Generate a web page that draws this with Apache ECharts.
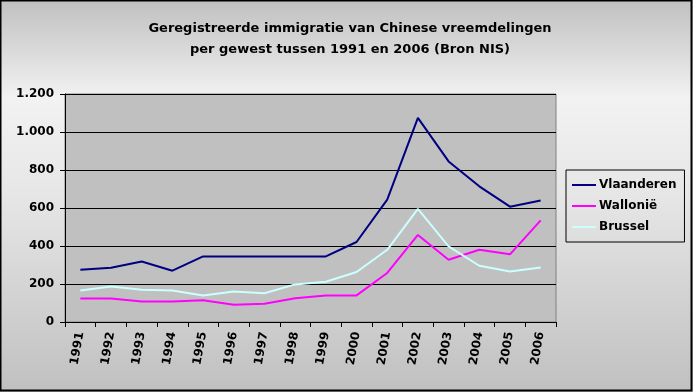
<!DOCTYPE html>
<html><head><meta charset="utf-8">
<script src="https://cdn.jsdelivr.net/npm/echarts@6/dist/echarts.min.js"></script>
<style>html,body{margin:0;padding:0;}#c{width:693px;height:392px;}</style>
</head><body><div id="c"></div>
<script>
const years = ['1991','1992','1993','1994','1995','1996','1997','1998','1999','2000','2001','2002','2003','2004','2005','2006'];
const vlaanderen = [275, 285, 318, 270, 345, 345, 345, 345, 345, 421, 644, 1074, 845, 714, 607, 640];
const wallonie   = [124, 124, 108, 108, 114, 91, 96, 125, 140, 140, 258, 458, 328, 380, 356, 535];
const brussel    = [166, 187, 170, 166, 140, 161, 151, 198, 212, 263, 380, 595, 398, 296, 266, 287];
const yTicks = [0, 200, 400, 600, 800, 1000, 1200];
const titleLines = ['Geregistreerde immigratie van Chinese vreemdelingen', 'per gewest tussen 1991 en 2006 (Bron NIS)'];

const chart = echarts.init(document.getElementById('c'), null, {renderer:'canvas'});
const font = '"DejaVu Sans", Verdana, sans-serif';
chart.setOption({
  animation:false,
  backgroundColor:{type:'linear',x:0,y:0,x2:0,y2:1,colorStops:[
    {offset:0,color:'#c0c0c0'},{offset:0.25,color:'#f2f2f2'},{offset:0.5,color:'#e6e6e6'},{offset:1,color:'#c0c0c0'}]},
  title:{text:titleLines.join('\n'),left:345,textAlign:'center',top:13,
    textStyle:{fontFamily:font,fontSize:13,fontWeight:'bold',color:'#000',lineHeight:21}},
  grid:{left:65,right:137,top:94,bottom:70,show:true,backgroundColor:'#c0c0c0',borderColor:'#808080',borderWidth:1},
  legend:{orient:'vertical',left:566,top:170,width:110,padding:[9,8,9,6],itemGap:9,itemWidth:24,itemHeight:2,
    borderColor:'#000',borderWidth:1,backgroundColor:'rgba(0,0,0,0)',icon:'rect',
    textStyle:{fontFamily:font,fontSize:12,fontWeight:'bold',color:'#000',padding:[0,0,0,-2]},
    data:['Vlaanderen','Wallonië','Brussel']},
  xAxis:{type:'category',data:years,boundaryGap:true,
    axisLine:{lineStyle:{color:'#000',width:1}},
    axisTick:{show:true,interval:0,length:5,lineStyle:{color:'#000'}},
    axisLabel:{interval:0,rotate:80,margin:10,fontFamily:font,fontSize:12,fontWeight:'bold',color:'#000'}},
  yAxis:{type:'value',min:yTicks[0],max:yTicks[yTicks.length-1],interval:200,
    axisLine:{show:true,lineStyle:{color:'#000'}},
    axisTick:{show:true,length:5,lineStyle:{color:'#000'}},
    splitLine:{lineStyle:{color:'#000',width:1}},
    axisLabel:{margin:11,fontFamily:font,fontSize:12,fontWeight:'bold',color:'#000',
      formatter:v=>v>=1000?Math.floor(v/1000)+'.'+String(v%1000).padStart(3,'0'):String(v)}},
  series:[
    {name:'Vlaanderen',type:'line',data:vlaanderen,symbol:'none',lineStyle:{color:'#000080',width:2},itemStyle:{color:'#000080'}},
    {name:'Wallonië',type:'line',data:wallonie,symbol:'none',lineStyle:{color:'#ff00ff',width:2},itemStyle:{color:'#ff00ff'}},
    {name:'Brussel',type:'line',data:brussel,symbol:'none',lineStyle:{color:'#ccffff',width:2},itemStyle:{color:'#ccffff'}}
  ],
  graphic:[{type:'rect',shape:{x:0.5,y:0.5,width:691,height:390},style:{fill:'none',stroke:'#000',lineWidth:2},silent:true}]
});
</script></body></html>
